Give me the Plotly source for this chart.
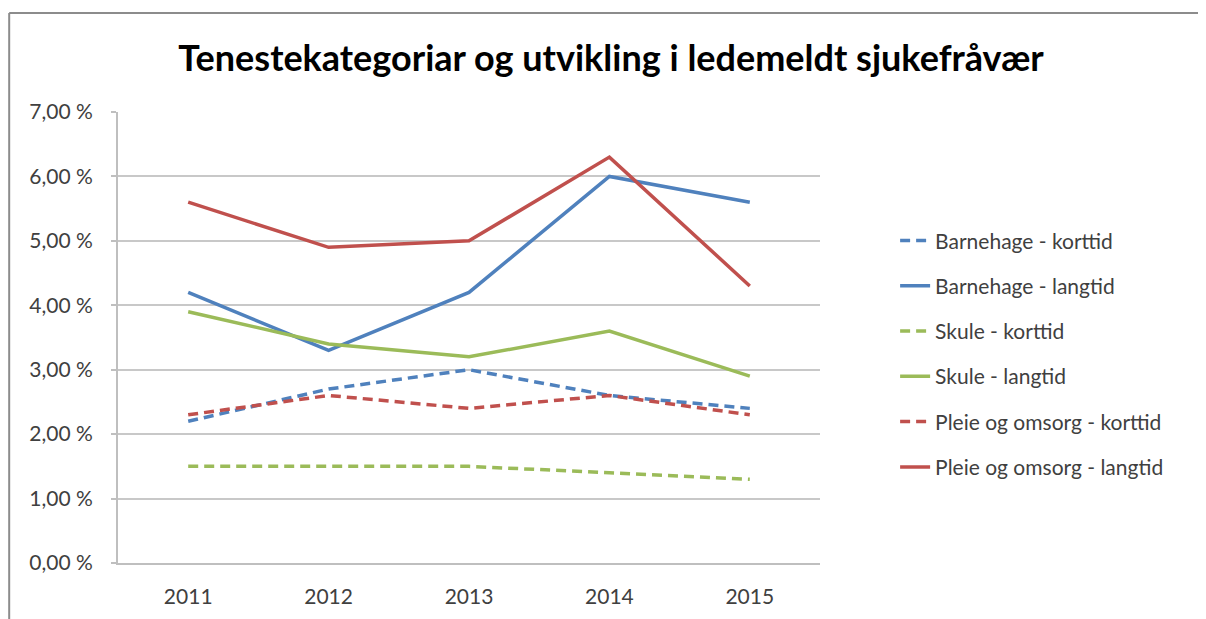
import plotly.graph_objects as go

# =============================================================================
# DATA
# =============================================================================

years = ['2011', '2012', '2013', '2014', '2015']

barnehage_korttid = [2.2, 2.7, 3.0, 2.6, 2.4]
barnehage_langtid = [4.2, 3.3, 4.2, 6.0, 5.6]
skule_korttid = [1.5, 1.5, 1.5, 1.4, 1.3]
skule_langtid = [3.9, 3.4, 3.2, 3.6, 2.9]
pleie_korttid = [2.3, 2.6, 2.4, 2.6, 2.3]
pleie_langtid = [5.6, 4.9, 5.0, 6.3, 4.3]

y_ticks = [0, 1, 2, 3, 4, 5, 6, 7]
y_tick_labels = ['0,00 %', '1,00 %', '2,00 %', '3,00 %', '4,00 %', '5,00 %', '6,00 %', '7,00 %']

series = [
    ('Barnehage - korttid', barnehage_korttid, '#4F81BD', 'dash'),
    ('Barnehage - langtid', barnehage_langtid, '#4F81BD', 'solid'),
    ('Skule - korttid', skule_korttid, '#9BBB59', 'dash'),
    ('Skule - langtid', skule_langtid, '#9BBB59', 'solid'),
    ('Pleie og omsorg - korttid', pleie_korttid, '#C0504D', 'dash'),
    ('Pleie og omsorg - langtid', pleie_langtid, '#C0504D', 'solid'),
]

# =============================================================================
# FIGURE
# =============================================================================

fig = go.Figure()

for i, (name, vals, color, dash) in enumerate(series):
    fig.add_trace(go.Scatter(
        x=years,
        y=vals,
        name=name,
        mode='lines',
        line=dict(color=color, width=3.5, dash='10px,6px' if dash == 'dash' else 'solid'),
        legendgroup=f'g{i}',
    ))

# chart border (Excel style frame)
frame = dict(color='#8C8C8C', width=2)
fig.add_shape(type='line', xref='paper', yref='paper', x0=-0.155, x1=1.56, y0=1.2195, y1=1.2195, line=frame)
fig.add_shape(type='line', xref='paper', yref='paper', x0=-0.155, x1=-0.155, y0=1.2195, y1=-0.16, line=frame)
fig.add_shape(type='line', xref='paper', yref='paper', x0=1.541, x1=1.541, y0=1.2195, y1=-0.16, line=frame)

fig.update_layout(
    title=dict(
        text='<b>Tenestekategoriar og utvikling i ledemeldt sjukefråvær</b>',
        font=dict(family='Lato', size=36, color='#000000'),
        x=0.5, xanchor='center',
        y=0.918, yanchor='middle',
    ),
    width=1206,
    height=619,
    margin=dict(l=110, r=394, t=104, b=64),
    plot_bgcolor='white',
    paper_bgcolor='white',
    font=dict(family='Lato', size=21, color='#404040'),
    xaxis=dict(
        type='category',
        range=[-0.5, 4.5],
        showgrid=False,
        showline=True,
        linecolor='#BFBFBF',
        linewidth=2,
        ticks='',
        tickfont=dict(size=21, color='#404040'),
        ticklabelstandoff=14,
    ),
    yaxis=dict(
        range=[0, 7],
        tickvals=y_ticks,
        ticktext=y_tick_labels,
        showgrid=True,
        gridcolor='#C8C8C8',
        gridwidth=2,
        showline=True,
        linecolor='#BFBFBF',
        linewidth=2,
        ticks='outside',
        ticklen=5,
        tickcolor='#BFBFBF',
        tickwidth=2,
        zeroline=False,
        tickfont=dict(size=21, color='#404040'),
        ticklabelstandoff=14,
    ),
    legend=dict(
        x=1.107, xanchor='left',
        y=0.76, yanchor='top',
        traceorder='grouped',
        tracegroupgap=15,
        font=dict(size=21, color='#404040'),
        bgcolor='rgba(0,0,0,0)',
    ),
    showlegend=True,
)

fig.write_html('out.html')
